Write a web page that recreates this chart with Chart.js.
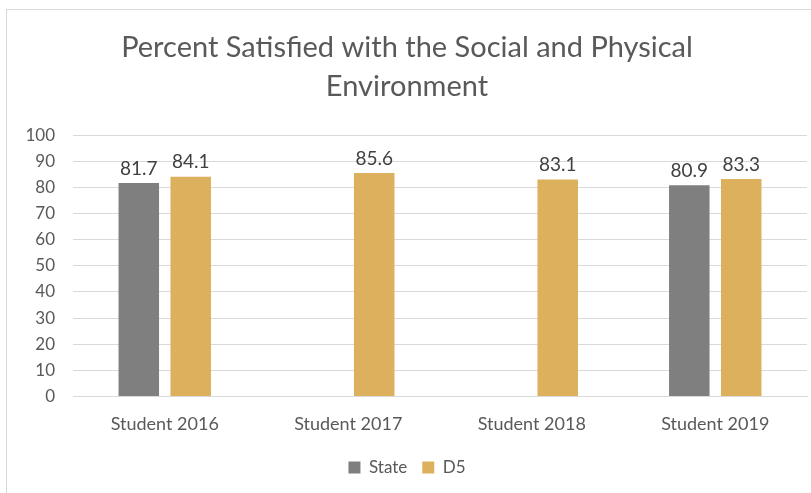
<!DOCTYPE html>
<html>
<head>
<meta charset="utf-8">
<script src="https://cdn.jsdelivr.net/npm/chart.js@4"></script>
<style>
  body { margin: 0; background: #fff; }
  #wrap { position: absolute; left: 6px; top: 9px; width: 810px; height: 490px; border: 1px solid #d9d9d9; box-sizing: border-box; }
  canvas { display: block; }
</style>
</head>
<body>
<div id="wrap"><canvas id="myChart" width="810" height="490"></canvas></div>
<script>
// data
const categories = ["Student 2016", "Student 2017", "Student 2018", "Student 2019"];
const stateValues = [81.7, null, null, 80.9];
const d5Values = [84.1, 85.6, 83.1, 83.3];
const titleLines = ["Percent Satisfied with the Social and Physical", "Environment"];

const gray = "#7f7f7f";
const gold = "#dcb05c";
const textColor = "#595959";
const font = "Lato, 'Open Sans', sans-serif";

// draw value above each bar
const valueLabels = {
  id: "valueLabels",
  afterDatasetsDraw(chart) {
    const ctx = chart.ctx;
    ctx.save();
    ctx.font = "19px " + font;
    ctx.fillStyle = "#404040";
    ctx.textAlign = "center";
    ctx.textBaseline = "bottom";
    chart.data.datasets.forEach((ds, i) => {
      chart.getDatasetMeta(i).data.forEach((bar, j) => {
        if (ds.data[j] == null) return;
        ctx.fillText(ds.data[j].toFixed(1), bar.x, bar.y - 5);
      });
    });
    ctx.restore();
  },
};

const chart = new Chart("myChart", {
  type: "bar",
  data: {
    labels: categories,
    datasets: [
      { label: "State", data: stateValues, backgroundColor: gray },
      { label: "D5", data: d5Values, backgroundColor: gold },
    ],
  },
  options: {
    responsive: false,
    animation: false,
    categoryPercentage: 0.566,
    barPercentage: 0.78,
    layout: { padding: { left: 0, right: 10, top: 10, bottom: 14 } },
    plugins: {
      title: {
        display: true,
        text: titleLines,
        color: textColor,
        font: { family: font, size: 29, weight: "normal", lineHeight: 1.35 },
        padding: { top: 8, bottom: 29 },
      },
      legend: {
        position: "bottom",
        labels: {
          color: textColor,
          font: { family: font, size: 17 },
          boxWidth: 12,
          boxHeight: 12,
          padding: 15,
        },
      },
      tooltip: { enabled: false },
    },
    scales: {
      x: {
        grid: { display: false },
        border: { display: true, color: "#d9d9d9" },
        ticks: { color: textColor, font: { family: font, size: 18 }, padding: 9 },
      },
      y: {
        min: 0,
        max: 100,
        afterFit: (axis) => { axis.width = 66; },
        grid: { color: "#d9d9d9", drawTicks: false },
        border: { display: false },
        ticks: { stepSize: 10, color: textColor, font: { family: font, size: 17 }, padding: 18 },
      },
    },
  },
  plugins: [valueLabels],
});
</script>
</body>
</html>
